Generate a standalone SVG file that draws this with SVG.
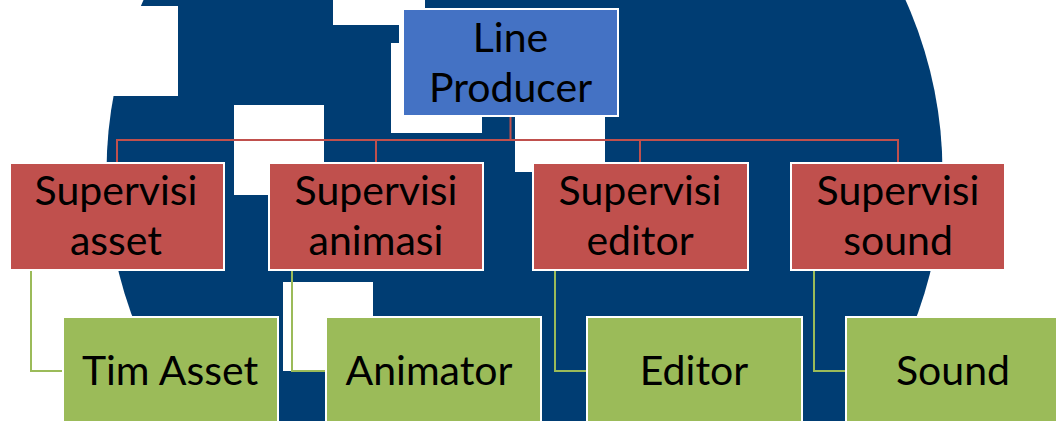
<svg xmlns="http://www.w3.org/2000/svg" width="1056" height="421" viewBox="0 0 1056 421">
<style>
.bg{fill:#003D73}
.cut{fill:#ffffff}
.box{stroke:#ffffff;stroke-width:2}
.top{fill:#4472C4}
.sup{fill:#C0504D}
.tim{fill:#9BBB59}
.red{fill:none;stroke:#C0504D;stroke-width:2}
.grn{fill:none;stroke:#9BBB59;stroke-width:2}
text{font-family:Lato,"Liberation Sans",sans-serif;font-size:41px;fill:#000000;text-anchor:middle}
</style>
<rect width="1056" height="421" fill="#ffffff"/>
<g id="background">
<circle class="bg" cx="524.5" cy="172" r="418"/>
<rect class="cut" x="80" y="6" width="98" height="90"/>
<rect class="cut" x="333" y="-5" width="92" height="30"/>
<rect class="cut" x="399" y="25" width="6" height="18"/>
<rect class="cut" x="391" y="43" width="91" height="90"/>
<rect class="cut" x="515" y="116" width="90" height="56"/>
<rect class="cut" x="234" y="105" width="90" height="90"/>
<rect class="cut" x="283" y="282" width="90" height="89"/>
</g>
<g id="connectors">
<path class="red" d="M510.5,116 V140 M117,163 V140 H898 V163 M376,140 V163 M640,140 V163"/>
<path class="grn" d="M31,270 V371 H63 M292,270 V371 H326 M555,270 V371 H587 M814,270 V371 H846"/>
</g>
<g id="line-producer">
<rect class="box top" x="403" y="9" width="215" height="107"/>
<text x="510.5" y="52">Line</text>
<text x="510.5" y="102">Producer</text>
</g>
<g id="supervisi-asset">
<rect class="box sup" x="10" y="163" width="214" height="107"/>
<text x="116" y="205">Supervisi</text>
<text x="116" y="255">asset</text>
</g>
<g id="supervisi-animasi">
<rect class="box sup" x="269" y="163" width="214" height="107"/>
<text x="376" y="205">Supervisi</text>
<text x="376" y="255">animasi</text>
</g>
<g id="supervisi-editor">
<rect class="box sup" x="533" y="163" width="215" height="107"/>
<text x="640" y="205">Supervisi</text>
<text x="640" y="255">editor</text>
</g>
<g id="supervisi-sound">
<rect class="box sup" x="791" y="163" width="214" height="107"/>
<text x="898" y="205">Supervisi</text>
<text x="898" y="255">sound</text>
</g>
<g id="tim-asset">
<rect class="box tim" x="63" y="317" width="215" height="112"/>
<text x="170" y="385">Tim Asset</text>
</g>
<g id="animator">
<rect class="box tim" x="326" y="317" width="215" height="112"/>
<text x="429" y="385">Animator</text>
</g>
<g id="editor">
<rect class="box tim" x="587" y="317" width="215" height="112"/>
<text x="694" y="385">Editor</text>
</g>
<g id="sound">
<rect class="box tim" x="846" y="317" width="215" height="112"/>
<text x="953" y="385">Sound</text>
</g>
</svg>
